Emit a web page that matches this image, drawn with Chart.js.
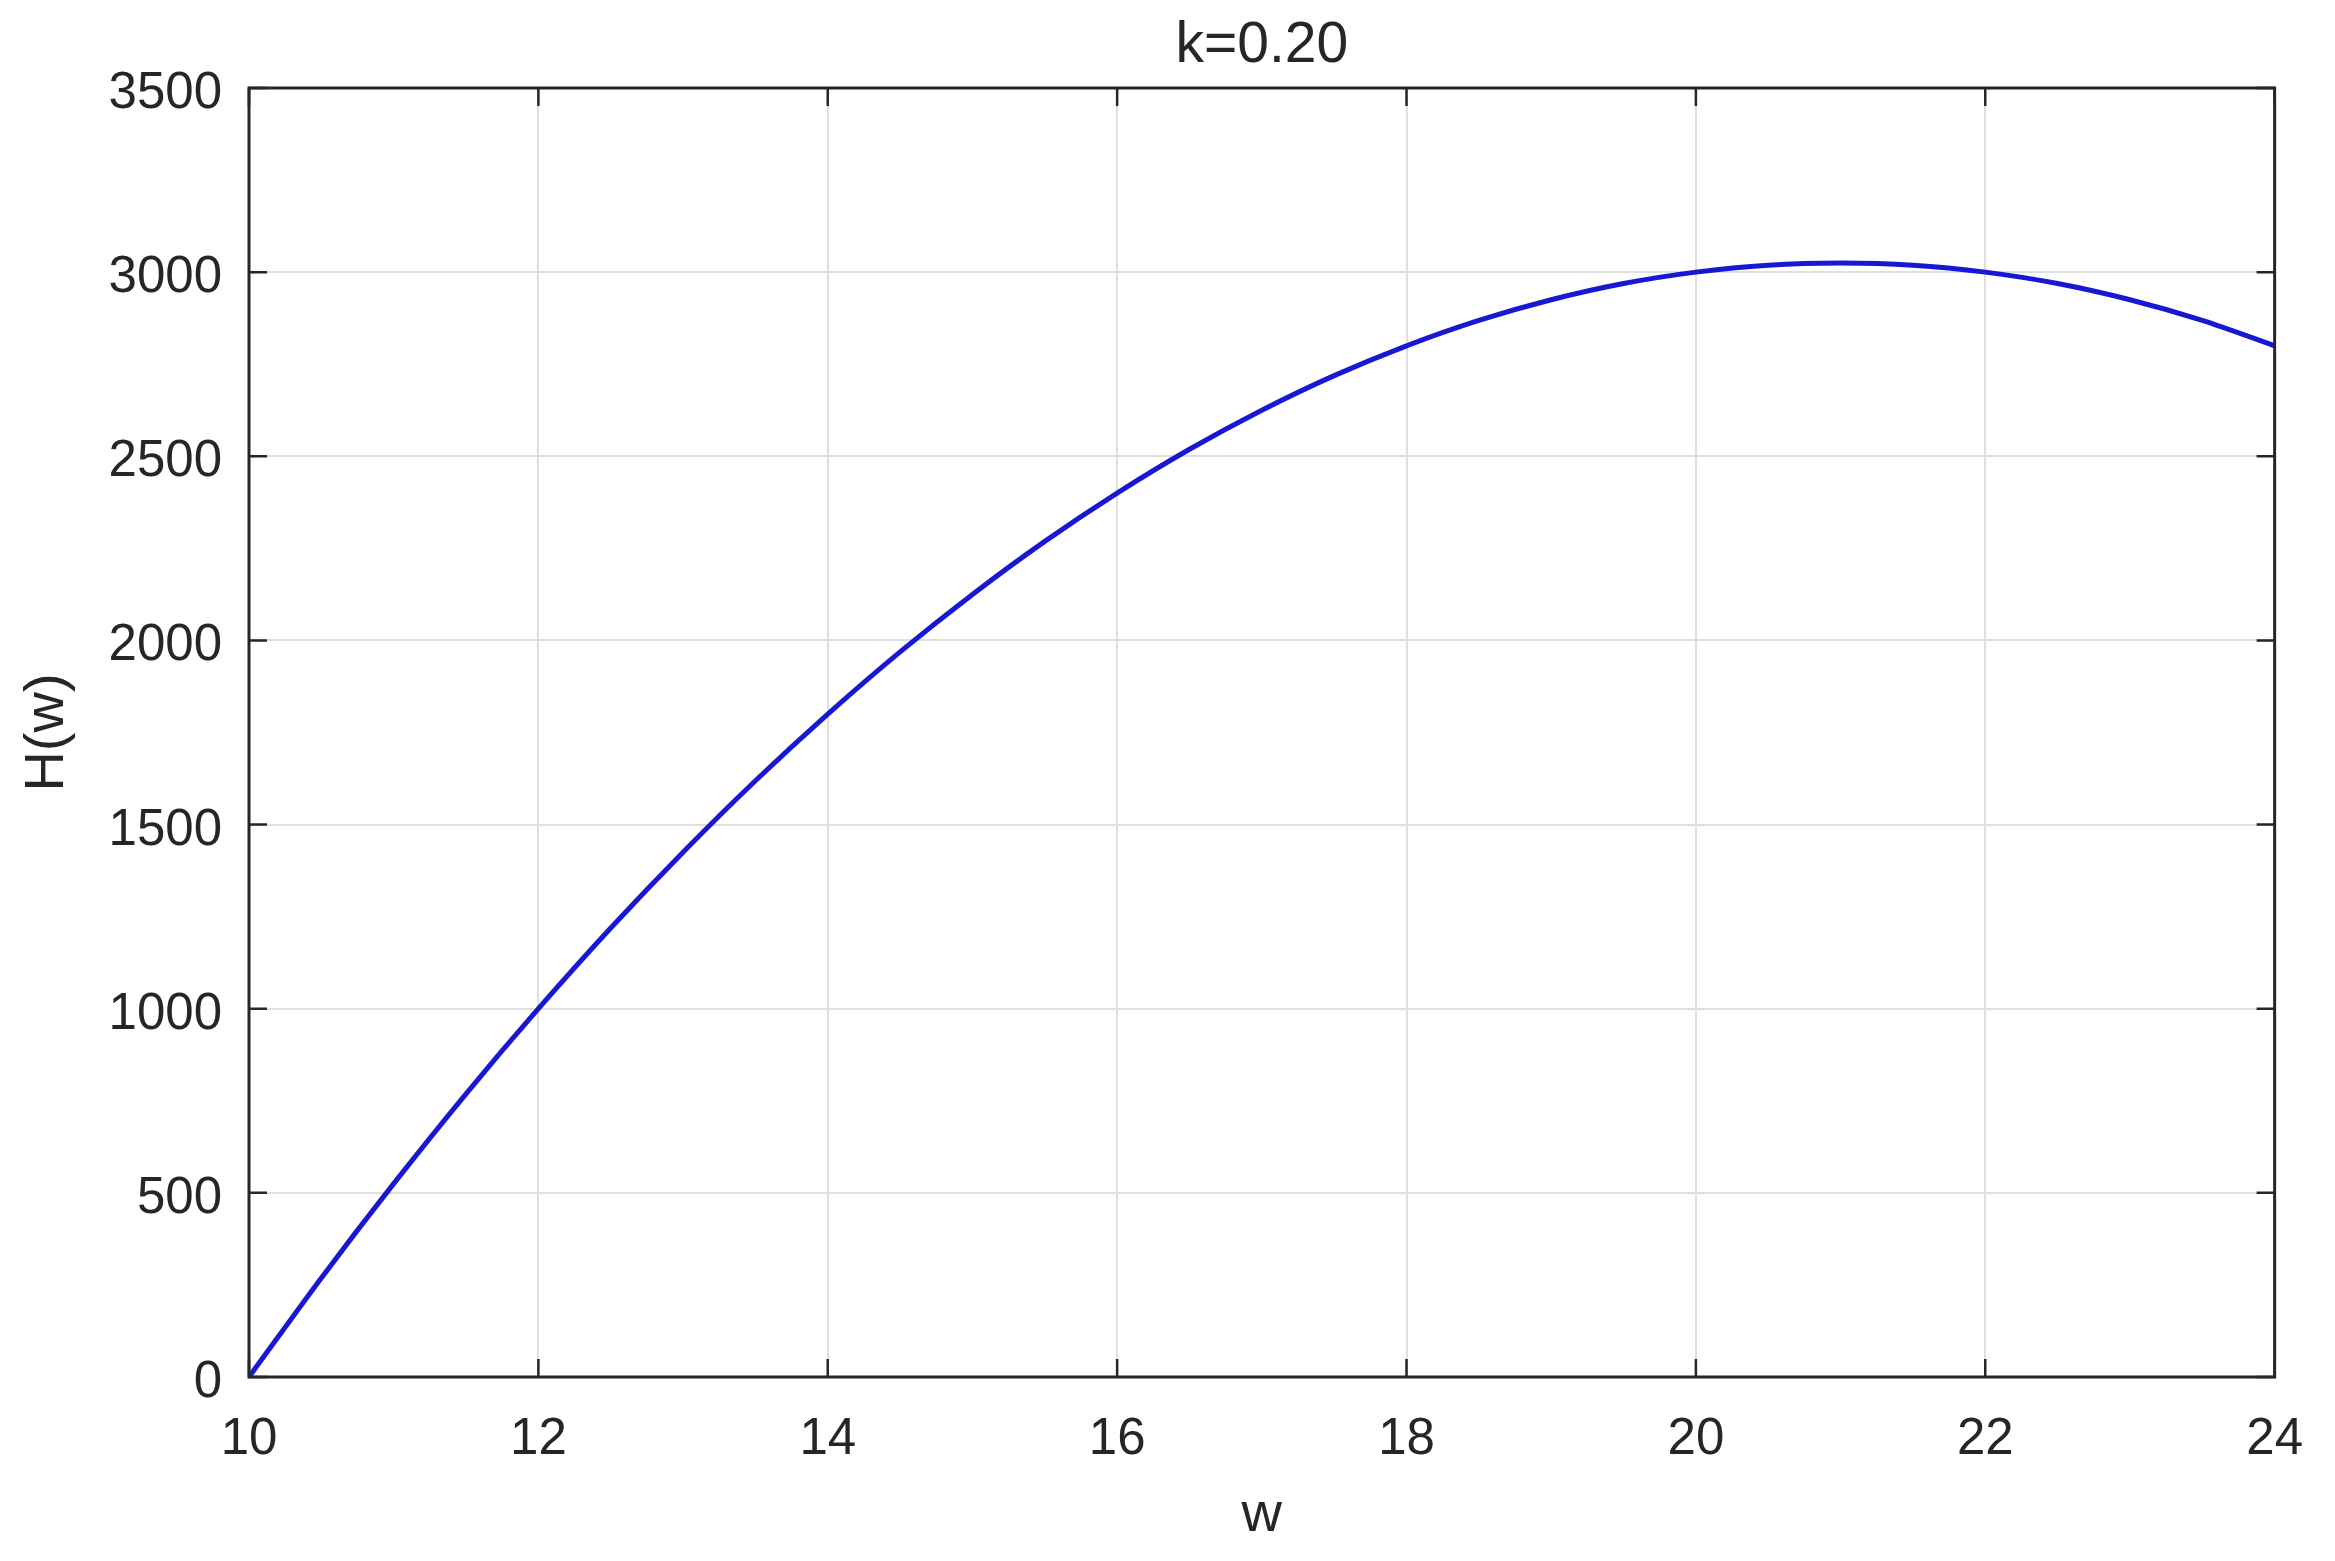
<!DOCTYPE html>
<html lang="en">
<head>
  <meta charset="UTF-8">
  <title>H(w), k=0.20</title>
  <script src="https://cdn.jsdelivr.net/npm/chart.js"></script>
  <style>
    html, body {
      margin: 0;
      padding: 0;
      background: #fff;
    }
    .wrap {
      width: 2335px;
      height: 1561px;
    }
  </style>
</head>
<body>
  <div class="wrap">
    <canvas id="hChart" width="2335" height="1561"></canvas>
  </div>

  <script>
    // values
    const wValues = [10, 10.5, 11, 11.5, 12, 12.5, 13, 13.5, 14, 14.5, 15, 15.5, 16, 16.5, 17,
                     17.5, 18, 18.5, 19, 19.5, 20, 20.5, 21, 21.5, 22, 22.5, 23, 23.5, 24];
    const hValues = [0, 269, 525, 769, 1000, 1219, 1425, 1619, 1800, 1969, 2125, 2269, 2400, 2519, 2625,
                     2719, 2800, 2869, 2925, 2969, 3000, 3019, 3025, 3019, 3000, 2969, 2925, 2869, 2800];
    const xTicks = [10, 12, 14, 16, 18, 20, 22, 24];
    const yTicks = [0, 500, 1000, 1500, 2000, 2500, 3000, 3500];

    const textColor = '#262626';
    const fontFamily = '"Liberation Sans", Arial, sans-serif';

    // MATLAB-style box with inward tick marks
    const boxPlugin = {
      id: 'matlabBox',
      afterDatasetsDraw(chart) {
        const { ctx, chartArea: a, scales } = chart;
        const len = 18;
        ctx.save();
        ctx.strokeStyle = textColor;
        ctx.lineWidth = 3;
        ctx.strokeRect(a.left, a.top, a.right - a.left, a.bottom - a.top);
        ctx.lineWidth = 2.5;
        ctx.beginPath();
        xTicks.forEach(v => {
          const px = scales.x.getPixelForValue(v);
          ctx.moveTo(px, a.bottom); ctx.lineTo(px, a.bottom - len);
          ctx.moveTo(px, a.top); ctx.lineTo(px, a.top + len);
        });
        yTicks.forEach(v => {
          const py = scales.y.getPixelForValue(v);
          ctx.moveTo(a.left, py); ctx.lineTo(a.left + len, py);
          ctx.moveTo(a.right, py); ctx.lineTo(a.right - len, py);
        });
        ctx.stroke();
        ctx.restore();
      }
    };

    const ctx = document.getElementById('hChart').getContext('2d');
    new Chart(ctx, {
      type: 'line',
      data: {
        datasets: [{
          data: wValues.map((w, i) => ({ x: w, y: hValues[i] })),
          borderColor: '#1818d4',
          borderWidth: 5,
          pointRadius: 0,
          fill: false,
          tension: 0.3
        }]
      },
      options: {
        responsive: false,
        animation: false,
        layout: {
          padding: { left: 0, right: 60, top: 0, bottom: 0 }
        },
        plugins: {
          legend: { display: false },
          tooltip: { enabled: false }
        },
        scales: {
          x: {
            type: 'linear',
            min: 10,
            max: 24,
            afterFit(scale) { scale.height = 184; },
            afterBuildTicks(scale) { scale.ticks = xTicks.map(v => ({ value: v })); },
            ticks: {
              color: textColor,
              font: { family: fontFamily, size: 51 },
              padding: 32,
              maxRotation: 0,
              callback: v => String(v)
            },
            grid: { color: '#dfdfdf', lineWidth: 2, drawTicks: false },
            border: { display: false },
            title: {
              display: true,
              text: 'w',
              color: textColor,
              font: { family: fontFamily, size: 56 },
              padding: { top: 0, bottom: 12 }
            }
          },
          // top axis only carries the plot title, centred over the axes box
          xTop: {
            type: 'linear',
            position: 'top',
            min: 10,
            max: 24,
            afterFit(scale) { scale.height = 88; },
            ticks: { display: false },
            grid: { display: false, drawTicks: false },
            border: { display: false },
            title: {
              display: true,
              text: 'k=0.20',
              color: textColor,
              font: { family: fontFamily, size: 57 },
              padding: { top: 12, bottom: 0 }
            }
          },
          y: {
            min: 0,
            max: 3500,
            afterFit(scale) { scale.width = 249; },
            afterBuildTicks(scale) { scale.ticks = yTicks.map(v => ({ value: v })); },
            ticks: {
              color: textColor,
              font: { family: fontFamily, size: 51 },
              padding: 27,
              labelOffset: 6,
              callback: v => String(v)
            },
            grid: { color: '#dfdfdf', lineWidth: 2, drawTicks: false },
            border: { display: false },
            title: {
              display: true,
              text: 'H(w)',
              color: textColor,
              font: { family: fontFamily, size: 56 },
              padding: { top: 14, bottom: 0 }
            }
          }
        }
      },
      plugins: [boxPlugin]
    });
  </script>
</body>
</html>
